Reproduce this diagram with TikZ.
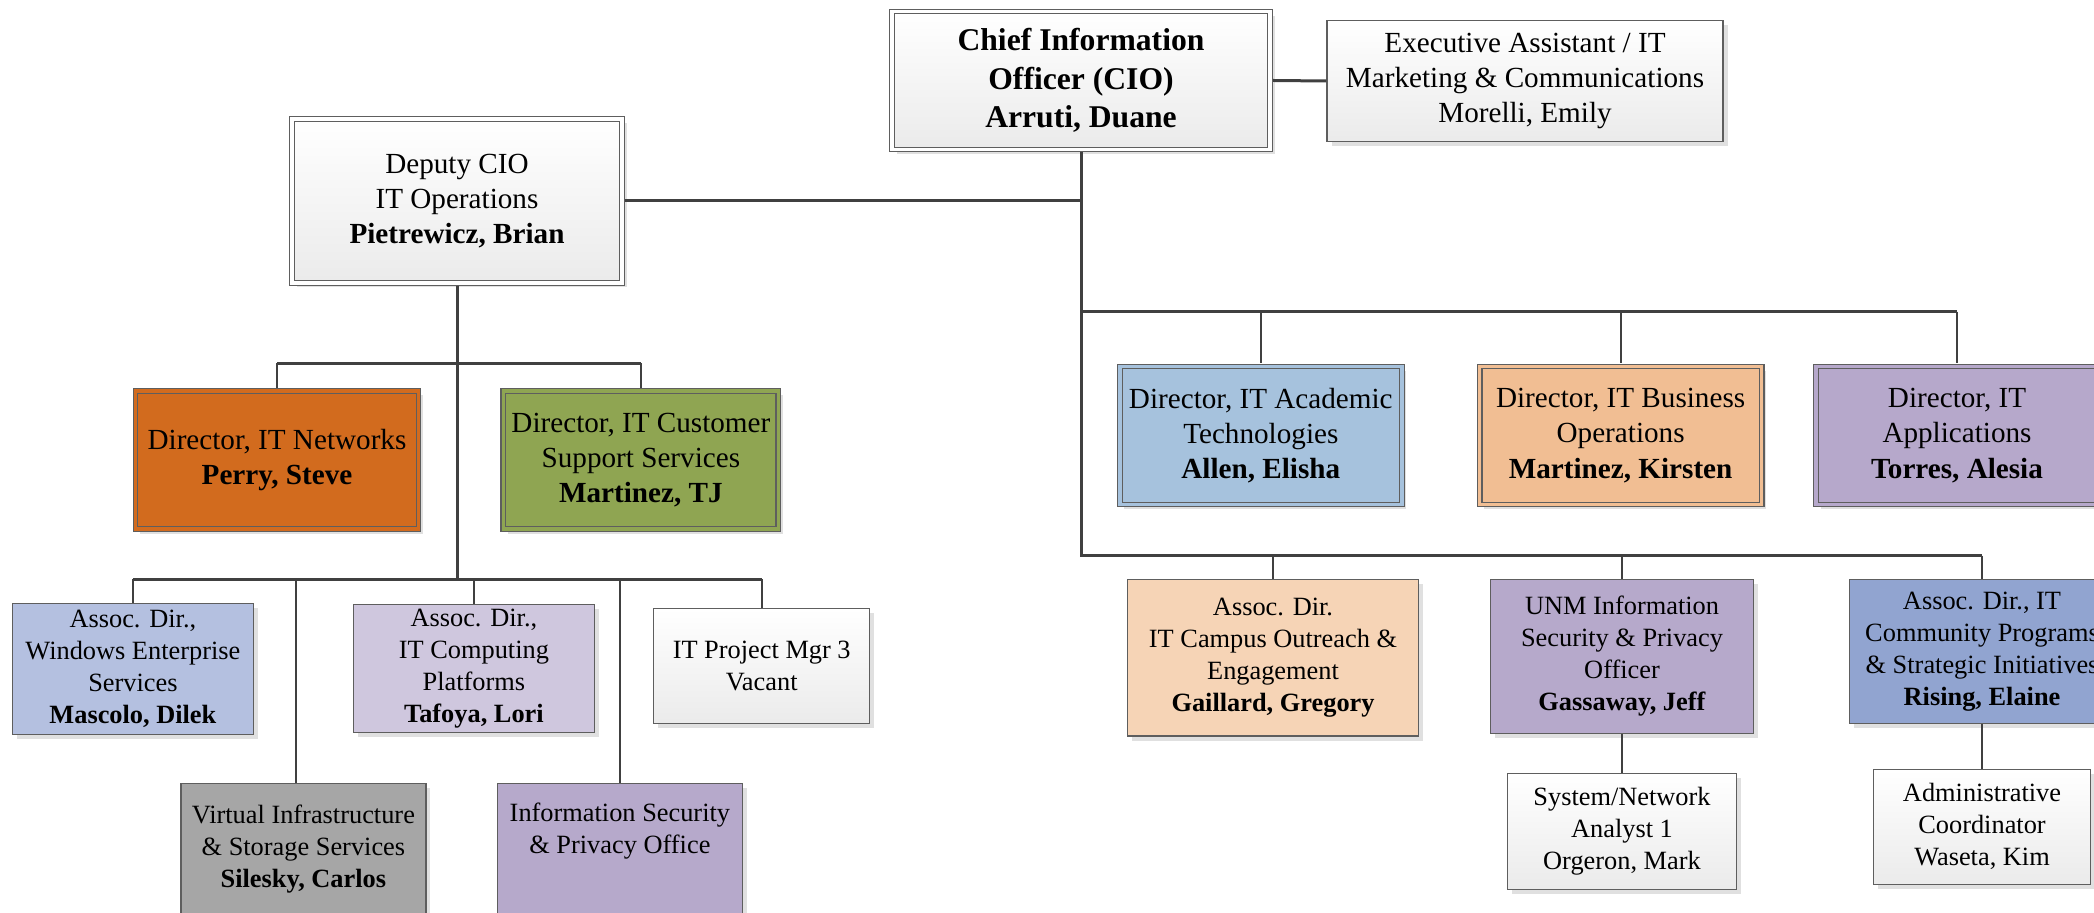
\documentclass[tikz,border=0pt]{standalone}
\usepackage{fontspec}
\setmainfont{Liberation Serif}
\usetikzlibrary{shadows, positioning}
\definecolor{ink}{HTML}{404040}
\definecolor{edge}{HTML}{5E5E5E}
\definecolor{netorange}{HTML}{D26B1E}
\definecolor{custgreen}{HTML}{8FA552}
\definecolor{acadblue}{HTML}{A6C2DD}
\definecolor{busorange}{HTML}{F1BE93}
\definecolor{applav}{HTML}{B6A8CB}
\definecolor{winblue}{HTML}{B4C0E0}
\definecolor{complav}{HTML}{CFC7DE}
\definecolor{virtgrey}{HTML}{A6A6A6}
\definecolor{seclav}{HTML}{B6A9CB}
\definecolor{campuspeach}{HTML}{F6D4B6}
\definecolor{commblue}{HTML}{91A4D0}
\tikzset{
  box/.style={rectangle, draw=edge, line width=0.012cm, inner sep=0.04cm, align=center,
    font=\fontsize{7.5}{9.1}\selectfont,
    drop shadow={shadow xshift=0.045cm, shadow yshift=-0.045cm, fill=black!30, opacity=0.4}},
  pale/.style={box, top color=white, bottom color=black!8},
  tint/.style={box, fill=#1},
  mid/.style={font=\fontsize{8.3}{10}\selectfont},
  dbl/.style={mid, double=#1, double distance=0.035cm, outer sep=0.03cm},
  trunk/.style={ink, line width=0.03cm},
  link/.style={ink, line width=0.02cm}
}

\begin{document}
\begin{tikzpicture}
  \useasboundingbox (0,0) rectangle (20.94,-9.13);
  % top
  \node[pale, dbl=white, minimum width=3.78cm, minimum height=1.38cm, font=\bfseries\fontsize{9}{11}\selectfont] (cio) at (10.81,-0.805) {Chief Information\\Officer (CIO)\\Arruti, Duane};
  \node[pale, mid, minimum width=3.96cm, minimum height=1.206cm] (exec) at (15.25,-0.81) {Executive Assistant / IT\\Marketing \& Communications\\Morelli, Emily};
  \node[pale, dbl=white, minimum width=3.30cm, minimum height=1.64cm] (deputy) at (4.57,-2.01) {Deputy CIO\\IT Operations\\\textbf{Pietrewicz, Brian}};
  % directors
  \node[tint=netorange, dbl=netorange, minimum width=2.83cm, minimum height=1.38cm] (networks) at (2.77,-4.60) {Director, IT Networks\\\textbf{Perry, Steve}};
  \node[tint=custgreen, dbl=custgreen, minimum width=2.75cm, minimum height=1.38cm] (custsup) at (6.409,-4.60) {Director, IT Customer\\Support Services\\\textbf{Martinez, TJ}};
  \node[tint=acadblue, dbl=acadblue, minimum width=2.82cm, minimum height=1.38cm] (academic) at (12.608,-4.355) {Director, IT Academic\\Technologies\\\textbf{Allen, Elisha}};
  \node[tint=busorange, dbl=busorange, minimum width=2.82cm, minimum height=1.38cm] (business) at (16.206,-4.355) {Director, IT Business\\Operations\\\textbf{Martinez, Kirsten}};
  \node[tint=applav, dbl=applav, minimum width=2.82cm, minimum height=1.38cm] (apps) at (19.57,-4.355) {Director, IT\\Applications\\\textbf{Torres, Alesia}};
  % operations units
  \node[tint=winblue, minimum width=2.405cm, minimum height=1.31cm] (windows) at (1.329,-6.688) {Assoc. Dir.,\\Windows Enterprise\\Services\\\textbf{Mascolo, Dilek}};
  \node[tint=complav, minimum width=2.405cm, minimum height=1.28cm] (computing) at (4.739,-6.683) {Assoc. Dir.,\\IT Computing\\Platforms\\\textbf{Tafoya, Lori}};
  \node[pale, minimum width=2.158cm, minimum height=1.15cm] (projmgr) at (7.617,-6.662) {IT Project Mgr 3\\Vacant};
  \node[tint=virtgrey, minimum width=2.45cm, minimum height=1.31cm] (virtual) at (3.034,-8.492) {Virtual Infrastructure\\\& Storage Services\\\textbf{Silesky, Carlos}};
  \node[tint=seclav, minimum width=2.446cm, minimum height=1.31cm] (infosec) at (6.199,-8.492) {Information Security\\\& Privacy Office\\\strut};
  % cio units
  \node[tint=campuspeach, minimum width=2.903cm, minimum height=1.567cm] (campus) at (12.73,-6.577) {Assoc. Dir.\\IT Campus Outreach \&\\Engagement\\\textbf{Gaillard, Gregory}};
  \node[tint=seclav, minimum width=2.637cm, minimum height=1.54cm] (unm) at (16.22,-6.563) {UNM Information\\Security \& Privacy\\Officer\\\textbf{Gassaway, Jeff}};
  \node[tint=commblue, minimum width=2.648cm, minimum height=1.444cm] (community) at (19.82,-6.515) {Assoc. Dir., IT\\Community Programs\\\& Strategic Initiatives\\\textbf{Rising, Elaine}};
  \node[pale, minimum width=2.284cm, minimum height=1.156cm] (sysnet) at (16.22,-8.315) {System/Network\\Analyst 1\\Orgeron, Mark};
  \node[pale, minimum width=2.164cm, minimum height=1.15cm] (admin) at (19.82,-8.268) {Administrative\\Coordinator\\Waseta, Kim};
  % buses
  \coordinate (dbus) at (10.81,-3.12);
  \coordinate (rbus) at (10.81,-5.557);
  \coordinate (ubus) at (4.57,-3.633);
  \coordinate (lbus) at (4.57,-5.793);
  \coordinate (vdrop) at (2.962,-5.793);
  \draw[trunk] (cio.east) -- (exec.west);
  \draw[trunk] (cio.south) -- (rbus) -- (rbus -| community.north);
  \draw[trunk] (dbus) -- (dbus -| apps.north);
  \draw[trunk] (deputy.east) -- (deputy.east -| cio.south);
  \draw[trunk] (deputy.south) -- (lbus);
  \draw[trunk] (ubus -| networks.north) -- (ubus -| custsup.north);
  \draw[trunk] (lbus -| windows.north) -- (lbus -| projmgr.north);
  \foreach \n in {academic, business, apps} \draw[link] (dbus -| \n.north) -- (\n.north);
  \foreach \n in {campus, unm, community} \draw[link] (rbus -| \n.north) -- (\n.north);
  \foreach \n in {networks, custsup} \draw[link] (ubus -| \n.north) -- (\n.north);
  \foreach \n in {windows, computing, infosec, projmgr} \draw[link] (lbus -| \n.north) -- (\n.north);
  \draw[link] (vdrop) -- (vdrop |- virtual.north);
  \draw[link] (unm.south) -- (sysnet.north);
  \draw[link] (community.south) -- (admin.north);
\end{tikzpicture}
\end{document}
